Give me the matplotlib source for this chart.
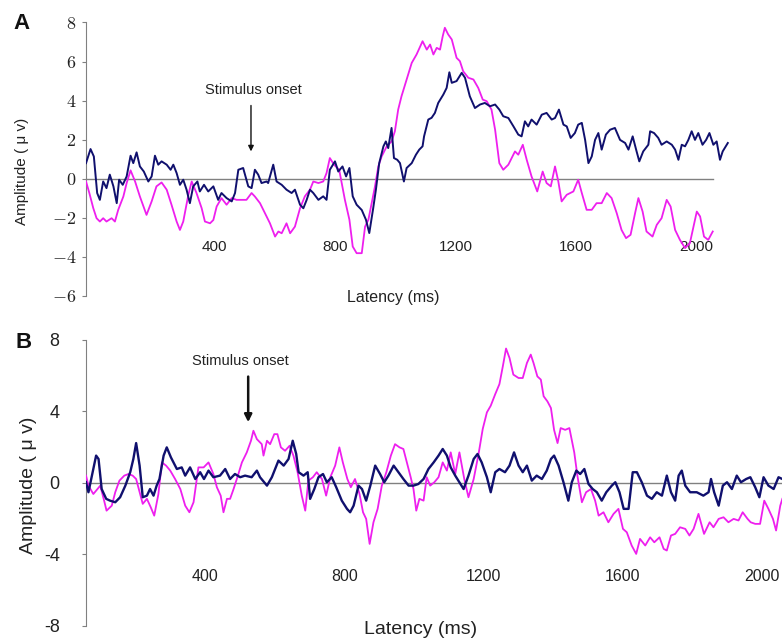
#!/usr/bin/env python3
"""
Two-panel ERP waveform figure (A and B): amplitude vs latency,
magenta and navy traces with a stimulus-onset marker.
Writes: out.png
"""

import matplotlib
matplotlib.use("Agg")
import matplotlib.pyplot as plt

plt.rcParams["font.family"] = ["Liberation Sans", "DejaVu Sans"]
plt.rcParams["mathtext.fontset"] = "cm"

MAGENTA = "#ee1fee"
NAVY    = "#10106e"
GRAY    = "#808080"
TXT     = "#222222"

# ---- panel A data (latency ms, amplitude uV) ----
a_navy_ms = [-28, -13, -2, 9, 18, 29, 40, 51, 63, 74, 82, 94, 107, 120, 129, 140, 151, 164,
             179, 190, 201, 212, 223, 240, 253, 262, 273, 284, 295, 306, 317, 328, 342, 350,
             364, 378, 395, 411, 422, 439, 456, 467, 478, 494, 511, 522, 533, 544, 555, 572,
             577, 594, 605, 622, 638, 655, 666, 683, 694, 705, 716, 727, 744, 760, 771, 782,
             799, 810, 824, 836, 847, 858, 871, 888, 902, 913, 926, 935, 946, 960, 968, 976,
             987, 995, 1006, 1015, 1028, 1037, 1054, 1068, 1079, 1090, 1095, 1109, 1120, 1131,
             1142, 1159, 1170, 1179, 1187, 1203, 1220, 1231, 1247, 1264, 1281, 1297, 1314,
             1331, 1345, 1358, 1375, 1392, 1408, 1419, 1430, 1441, 1452, 1469, 1486, 1502,
             1519, 1530, 1543, 1558, 1569, 1582, 1596, 1607, 1619, 1630, 1641, 1652, 1663,
             1674, 1685, 1699, 1713, 1729, 1746, 1763, 1774, 1788, 1801, 1810, 1823, 1840,
             1846, 1859, 1873, 1884, 1901, 1918, 1929, 1940, 1951, 1962, 1973, 1984, 1995,
             2006, 2020, 2032, 2043, 2056, 2067, 2078, 2087, 2104]
a_navy_uv = [0.80, 1.52, 1.14, -0.73, -1.08, -0.14, -0.48, 0.21, -0.39, -1.25, -0.05, -0.31,
             0.12, 1.18, 0.80, 1.35, 0.63, 0.37, -0.14, 0.12, 1.18, 0.72, 0.89, 0.72, 0.46,
             0.72, 0.29, -0.31, -0.05, -0.56, -1.25, -0.39, -0.14, -0.65, -0.31, -0.65, -0.39,
             -1.08, -0.73, -0.99, -1.16, -0.73, 0.46, 0.55, -0.39, -0.48, 0.46, 0.21, -0.22,
             -0.14, -0.22, 0.72, -0.14, -0.31, -0.56, -0.73, -0.56, -1.33, -1.51, -1.08,
             -0.56, -0.73, -1.08, -0.90, -1.08, 0.46, 0.89, 0.37, 0.63, 0.12, 0.55, -0.90,
             -1.33, -1.60, -2.10, -2.78, -1.51, -0.56, 0.80, 1.66, 1.91, 1.57, 2.60, 1.06,
             0.97, 0.80, -0.14, 0.55, 0.80, 1.23, 1.49, 1.66, 2.17, 3.03, 3.12, 3.37, 3.88,
             4.31, 4.65, 5.45, 4.91, 5.00, 5.42, 5.17, 4.22, 3.62, 3.80, 3.88, 3.71, 3.80,
             3.54, 3.20, 3.11, 2.68, 2.26, 2.17, 2.94, 2.68, 3.03, 2.77, 3.28, 3.37, 3.03,
             3.11, 3.54, 2.77, 2.68, 2.09, 2.34, 2.77, 2.86, 1.99, 0.80, 1.14, 1.99, 2.34,
             1.49, 2.26, 2.51, 2.60, 1.99, 1.83, 1.49, 2.17, 1.40, 0.89, 1.40, 1.74, 2.43,
             2.34, 2.09, 1.74, 1.91, 1.74, 1.49, 0.97, 1.74, 1.66, 1.99, 2.43, 1.99, 2.34,
             1.74, 1.99, 2.34, 1.74, 1.91, 0.97, 1.40, 1.83]

a_mag_ms = [-28, -17, -4, 7, 18, 29, 40, 57, 68, 79, 96, 107, 120, 135, 151, 173, 190, 206,
            223, 240, 256, 273, 284, 295, 312, 323, 339, 356, 367, 384, 395, 406, 422, 439,
            456, 472, 489, 505, 522, 533, 550, 572, 583, 600, 611, 622, 638, 650, 666, 683,
            699, 716, 727, 744, 760, 771, 782, 796, 813, 832, 847, 858, 871, 888, 899, 910,
            921, 932, 943, 954, 971, 987, 998, 1009, 1020, 1037, 1054, 1070, 1090, 1104, 1115,
            1126, 1137, 1148, 1157, 1164, 1175, 1187, 1203, 1214, 1225, 1242, 1259, 1275,
            1290, 1303, 1319, 1331, 1345, 1358, 1375, 1397, 1408, 1423, 1436, 1452, 1471,
            1489, 1502, 1516, 1530, 1541, 1552, 1569, 1591, 1607, 1619, 1635, 1652, 1668,
            1685, 1702, 1718, 1735, 1751, 1766, 1781, 1796, 1807, 1821, 1834, 1854, 1868,
            1884, 1901, 1914, 1929, 1945, 1962, 1978, 1990, 2001, 2012, 2025, 2039, 2054]
a_mag_uv = [-0.14, -0.73, -1.50, -2.02, -2.19, -2.02, -2.19, -2.02, -2.19, -1.59, -0.91,
            -0.22, 0.43, -0.14, -0.91, -1.85, -1.16, -0.39, -0.19, -0.56, -1.33, -2.19, -2.62,
            -2.19, -0.82, -0.14, -0.73, -1.50, -2.19, -2.28, -2.11, -1.42, -0.99, -1.33, -0.99,
            -1.08, -1.08, -1.08, -0.73, -0.91, -1.25, -1.93, -2.28, -2.96, -2.70, -2.79, -2.28,
            -2.79, -2.45, -1.51, -0.90, -0.56, -0.14, -0.22, -0.14, 0.29, 1.06, 0.72, 0.46,
            -1.08, -2.10, -3.47, -3.81, -3.81, -2.45, -2.10, -1.25, -0.39, 0.63, 1.14, 1.66,
            1.91, 2.43, 3.54, 4.22, 5.08, 5.93, 6.36, 7.04, 6.61, 6.87, 6.36, 6.70, 6.61, 7.30,
            7.73, 7.39, 7.13, 6.19, 6.02, 5.50, 5.17, 5.08, 4.65, 4.05, 3.97, 3.54, 2.51, 0.80,
            0.46, 0.72, 1.40, 1.23, 1.74, 0.97, 0.12, -0.65, 0.37, -0.22, -0.39, 0.63, -0.14,
            -1.16, -0.82, -0.65, -0.05, -0.73, -1.59, -1.59, -1.25, -1.25, -0.73, -0.99, -1.76,
            -2.62, -3.04, -2.87, -1.76, -0.99, -1.68, -2.70, -2.96, -2.36, -2.02, -1.08, -1.42,
            -2.62, -3.13, -3.55, -3.30, -2.45, -1.68, -1.93, -2.96, -3.13, -2.70]

# ---- panel B data ----
b_navy_ms = [57, 64, 74, 86, 93, 102, 115, 126, 141, 155, 170, 184, 193, 201, 211, 220, 232,
             241, 251, 260, 268, 280, 289, 301, 318, 332, 342, 356, 371, 385, 396, 409, 423,
             442, 457, 471, 485, 500, 514, 533, 548, 557, 577, 591, 610, 625, 639, 651, 661,
             668, 682, 694, 701, 713, 725, 738, 749, 763, 776, 792, 807, 816, 826, 840, 850,
             862, 874, 888, 902, 914, 926, 941, 955, 969, 984, 998, 1012, 1027, 1041, 1056,
             1070, 1082, 1094, 1105, 1118, 1130, 1142, 1156, 1171, 1182, 1194, 1209, 1220,
             1233, 1245, 1261, 1274, 1287, 1300, 1312, 1324, 1338, 1352, 1367, 1381, 1393,
             1402, 1415, 1429, 1443, 1453, 1466, 1477, 1489, 1501, 1513, 1525, 1539, 1552,
             1568, 1578, 1590, 1602, 1616, 1628, 1640, 1654, 1669, 1683, 1697, 1712, 1726,
             1738, 1750, 1760, 1769, 1779, 1793, 1812, 1831, 1846, 1853, 1862, 1875, 1887,
             1899, 1913, 1927, 1939, 1954, 1966, 1980, 1992, 2004, 2018, 2033, 2047, 2058]
b_navy_uv = [0.04, -0.52, 0.41, 1.53, 1.34, -0.34, -0.89, -0.99, -1.08, -0.80, -0.15, 0.60,
             1.34, 2.23, 0.97, -0.80, -0.71, -0.34, -0.71, -0.15, 0.22, 1.53, 1.99, 1.43, 0.78,
             0.87, 0.41, 0.87, 0.22, 0.60, 0.22, 0.69, 0.32, 0.41, 0.78, 0.22, 0.50, 0.32, 0.41,
             0.32, 0.69, 0.32, -0.15, 0.32, 1.25, 0.97, 1.34, 2.36, 1.62, 0.60, 0.41, 0.60,
             -0.89, -0.34, 0.32, 0.50, 0.04, 0.32, -0.24, -0.99, -1.45, -1.64, -1.27, -0.15,
             -0.34, -0.99, -0.15, 0.97, 0.50, 0.04, 0.41, 0.97, 0.60, 0.22, -0.15, -0.15, -0.06,
             0.22, 0.78, 1.15, 1.53, 1.90, 1.53, 0.87, 0.41, 0.04, -0.34, 0.41, 1.34, 1.62,
             1.15, 0.32, -0.52, 0.60, 0.78, 0.60, 0.97, 1.71, 0.97, 0.60, 0.97, 0.13, 0.41,
             0.22, 0.69, 1.34, 1.53, 0.97, 0.04, -0.99, 0.04, 0.69, 0.50, 0.78, -0.06, -0.34,
             -0.52, -0.99, -0.52, -0.15, 0.04, -0.52, -1.45, -1.45, 0.60, 0.60, 0.04, -0.71,
             -0.89, -0.52, -0.71, 0.41, -0.52, -0.99, 0.41, 0.69, -0.15, -0.52, -0.52, -0.71,
             -0.52, 0.22, -0.52, -1.27, -0.15, 0.04, -0.34, 0.41, 0.04, 0.22, 0.32, -0.24,
             -0.80, 0.32, -0.15, -0.34, 0.32, 0.22]

b_mag_ms = [57, 64, 78, 98, 109, 116, 131, 141, 153, 167, 179, 191, 201, 211, 220, 232, 243,
            253, 265, 275, 287, 299, 313, 328, 342, 354, 366, 380, 395, 409, 423, 433, 444,
            452, 462, 471, 481, 492, 505, 519, 531, 538, 548, 562, 567, 577, 586, 598, 607,
            617, 629, 642, 653, 665, 677, 687, 696, 709, 720, 735, 747, 759, 773, 785, 795,
            808, 818, 830, 843, 853, 862, 872, 883, 895, 907, 920, 933, 945, 958, 969, 979,
            990, 998, 1006, 1015, 1027, 1036, 1046, 1058, 1070, 1082, 1094, 1105, 1118, 1130,
            1144, 1156, 1171, 1185, 1197, 1209, 1220, 1233, 1245, 1255, 1264, 1274, 1285,
            1300, 1312, 1324, 1335, 1343, 1354, 1364, 1372, 1383, 1393, 1402, 1412, 1421,
            1434, 1446, 1460, 1469, 1482, 1494, 1508, 1520, 1530, 1544, 1558, 1573, 1587,
            1600, 1611, 1625, 1638, 1649, 1664, 1678, 1690, 1705, 1717, 1726, 1738, 1750,
            1764, 1779, 1791, 1803, 1817, 1833, 1849, 1860, 1875, 1889, 1903, 1918, 1932,
            1944, 1958, 1967, 1980, 1994, 2006, 2018, 2031, 2040, 2052, 2058]
b_mag_uv = [0.41, -0.15, -0.62, -0.15, -0.99, -1.55, -1.27, -0.52, 0.13, 0.41, 0.50, 0.41,
            0.22, -0.52, -1.17, -0.89, -1.36, -1.83, -0.62, 1.15, 0.97, 0.69, 0.22, -0.34,
            -1.27, -1.64, -1.08, 0.87, 0.87, 1.15, 0.50, -0.24, -0.71, -1.64, -0.89, -0.89,
            -0.34, 0.32, 1.15, 1.71, 2.36, 2.92, 2.45, 2.17, 1.53, 2.36, 2.17, 2.73, 2.73,
            1.99, 1.80, 2.08, 1.53, 0.60, -0.71, -1.55, 0.13, 0.32, 0.60, 0.22, -0.71, 0.32,
            0.97, 1.99, 1.15, 0.22, -0.24, 0.22, -0.62, -1.64, -2.01, -3.41, -2.20, -1.45,
            -0.15, 0.60, 1.53, 2.17, 1.99, 1.90, 1.15, 0.32, -0.34, -1.55, -0.89, -0.99, 0.32,
            -0.15, 0.04, 0.32, 1.15, 0.69, 1.71, 0.50, 1.71, 0.22, -0.80, 0.22, 1.62, 3.02,
            3.95, 4.32, 4.97, 5.53, 6.55, 7.52, 6.99, 6.06, 5.87, 5.87, 6.71, 7.18, 6.71, 5.96,
            5.78, 4.85, 4.56, 4.19, 2.97, 2.23, 3.07, 2.97, 3.07, 1.71, 0.41, -1.08, -0.52,
            -0.34, -0.99, -1.83, -1.64, -2.20, -1.73, -1.45, -2.57, -2.76, -3.50, -3.97, -3.13,
            -3.50, -3.04, -3.32, -3.04, -3.69, -3.78, -2.94, -2.85, -2.48, -2.57, -2.94, -2.57,
            -1.73, -2.85, -2.20, -2.48, -2.01, -1.92, -2.20, -2.01, -2.10, -1.64, -2.01, -2.20,
            -2.29, -2.29, -0.99, -1.45, -2.01, -2.66, -1.27, -0.89]

x_ticks  = [400, 800, 1200, 1600, 2000]
a_yticks = [-6, -4, -2, 0, 2, 4, 6, 8]
b_yticks = [-8, -4, 0, 4, 8]

fig = plt.figure(figsize=(7.82, 6.42), dpi=100)
fig.patch.set_facecolor("white")


def style_axes(ax, pad_x, xfs, yfs, ypad):
    for s in ("top", "right"):
        ax.spines[s].set_visible(False)
    ax.spines["left"].set_color(GRAY)
    ax.spines["bottom"].set_position(("data", 0))
    ax.spines["bottom"].set_color(GRAY)
    ax.spines["bottom"].set_linewidth(1.0)
    ax.tick_params(axis="x", length=0, pad=pad_x, labelsize=xfs, labelcolor=TXT)
    ax.tick_params(axis="y", length=3, width=0.8, color=GRAY, pad=ypad,
                   labelsize=yfs, labelcolor=TXT)
    ax.set_xticks(x_ticks)


# ---------------- panel A ----------------
axA = fig.add_axes([0.110, 0.539, 0.823, 0.426])
axA.plot(a_mag_ms, a_mag_uv, color=MAGENTA, lw=1.3, zorder=3)
axA.plot(a_navy_ms, a_navy_uv, color=NAVY, lw=1.4, zorder=4)
axA.set_xlim(-28, 2110)
axA.set_ylim(-6, 8)
style_axes(axA, pad_x=44, xfs=11, yfs=13, ypad=4)
axA.spines["bottom"].set_bounds(-28, 2055)
axA.set_yticks(a_yticks, labels=[f"${v}$" for v in a_yticks])
axA.set_xlabel("Latency (ms)", fontsize=11.5, color=TXT)
axA.xaxis.set_label_coords(0.477, -0.007)
axA.xaxis.label.set_va("center")
axA.set_ylabel("Amplitude ( \u03bc v)", fontsize=11, color=TXT)
axA.yaxis.set_label_coords(-0.099, 0.454)
axA.yaxis.label.set_va("center")
axA.annotate("", xy=(520, 1.4), xytext=(520, 3.75),
             arrowprops=dict(arrowstyle="-|>", color="#111111", lw=1.0,
                             mutation_scale=8, shrinkA=0, shrinkB=0))
axA.text(527, 4.55, "Stimulus onset", fontsize=10.5, color=TXT,
         ha="center", va="center")
fig.text(0.028, 0.964, "A", fontsize=16, fontweight="bold", color="#111111",
         ha="center", va="center")

# ---------------- panel B ----------------
axB = fig.add_axes([0.110, 0.025, 0.890, 0.4455])
axB.plot(b_mag_ms, b_mag_uv, color=MAGENTA, lw=1.3, zorder=3)
axB.plot(b_navy_ms, b_navy_uv, color=NAVY, lw=1.7, zorder=4)
axB.set_xlim(57, 2057)
axB.set_ylim(-8, 8)
style_axes(axB, pad_x=62, xfs=11.5, yfs=13, ypad=16)
axB.set_yticks(b_yticks, labels=[str(v) for v in b_yticks])
axB.set_xlabel("Latency (ms)", fontsize=14, color=TXT)
axB.xaxis.set_label_coords(0.480, -0.014)
axB.xaxis.label.set_va("center")
axB.set_ylabel("Amplitude ( \u03bc v)", fontsize=14, color=TXT)
axB.yaxis.set_label_coords(-0.083, 0.493)
axB.yaxis.label.set_va("center")
axB.annotate("", xy=(523, 3.4), xytext=(523, 5.95),
             arrowprops=dict(arrowstyle="-|>", color="#111111", lw=1.8,
                             mutation_scale=11, shrinkA=0, shrinkB=0))
axB.text(500, 6.8, "Stimulus onset", fontsize=10.5, color=TXT,
         ha="center", va="center")
fig.text(0.030, 0.466, "B", fontsize=16, fontweight="bold", color="#111111",
         ha="center", va="center")

fig.savefig("out.png", dpi=100, facecolor="white")
plt.close(fig)
